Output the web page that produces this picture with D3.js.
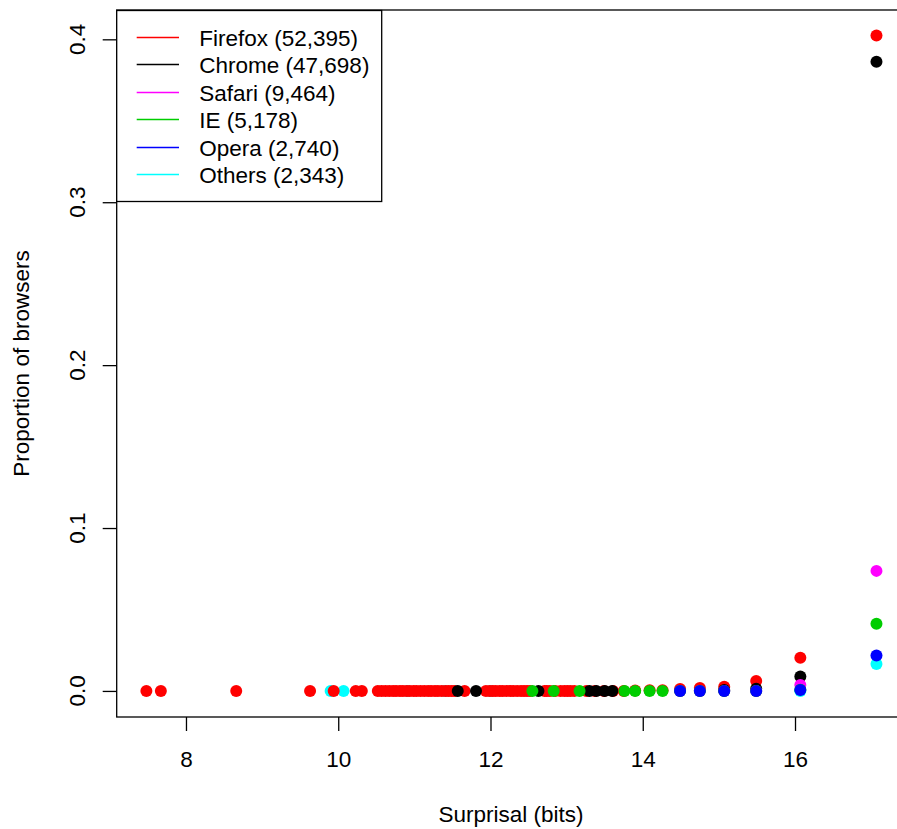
<!DOCTYPE html>
<html>
<head>
<meta charset="utf-8">
<script src="https://cdn.jsdelivr.net/npm/d3@7"></script>
<style>
  body { margin: 0; background: #fff; }
  text { font-family: "Liberation Sans", Arial, sans-serif; fill: #000; }
</style>
</head>
<body>
<svg id="chart" width="897" height="829"></svg>
<script>
// browser series, in legend order
var browsers = ["Firefox", "Chrome", "Safari", "IE", "Opera", "Others"];
var counts   = ["52,395", "47,698", "9,464", "5,178", "2,740", "2,343"];
var colors   = ["#ff0000", "#000000", "#ff00ff", "#00cd00", "#0000ff", "#00ffff"];

// surprisal (bits) and proportion of browsers
var firefoxX = [7.48, 7.67, 8.66, 9.63, 9.94, 10.23, 10.31, 10.52, 10.57, 10.62, 10.67, 10.72,
                10.76, 10.81, 10.85, 10.90, 10.94, 10.99, 11.03, 11.08, 11.13, 11.18, 11.22,
                11.27, 11.31, 11.36, 11.41, 11.45, 11.49, 11.53, 11.66, 11.94, 11.99, 12.03,
                12.07, 12.12, 12.16, 12.21, 12.26, 12.30, 12.35, 12.40, 12.44, 12.48, 12.52,
                12.71, 12.74, 12.78, 12.85, 12.92, 12.97, 13.01, 13.05, 13.10, 13.26, 13.37,
                13.49, 13.61, 13.75, 13.90, 14.09, 14.26, 14.49, 14.75, 15.07, 15.49, 16.07, 17.07];
var firefoxY = [0, 0, 0, 0, 0, 0, 0, 0, 0, 0, 0, 0,
                0, 0, 0, 0, 0, 0, 0, 0, 0, 0, 0,
                0, 0, 0, 0, 0, 0, 0, 0, 0, 0, 0,
                0, 0, 0, 0, 0, 0, 0, 0, 0, 0, 0,
                0, 0, 0, 0, 0, 0, 0, 0, 0, 0, 0,
                0, 0, 0, 0.0002, 0.0004, 0.0004, 0.0012, 0.0018, 0.0025, 0.0061, 0.0203, 0.4023];

var chromeX = [11.57, 11.81, 12.63, 13.30, 13.39, 13.50, 13.60, 15.07, 15.49, 16.07, 17.07];
var chromeY = [0, 0, 0, 0, 0, 0, 0, 0.0006, 0.0013, 0.0088, 0.3862];

var safariX = [14.49, 14.75, 15.07, 15.49, 16.07, 17.07];
var safariY = [0, 0, 0, 0, 0.0037, 0.0737];

var ieX = [12.55, 12.83, 13.17, 13.76, 13.90, 14.09, 14.26, 14.49, 14.75, 15.07, 15.49, 16.07, 17.07];
var ieY = [0, 0, 0, 0, 0, 0, 0, 0, 0, 0, 0, 0.0008, 0.0413];

var operaX = [14.49, 14.75, 15.07, 15.49, 16.07, 17.07];
var operaY = [0, 0, 0, 0, 0.0006, 0.0217];

var othersX = [9.90, 10.07, 10.91, 11.40, 12.00, 16.07, 17.07];
var othersY = [0, 0, 0, 0, 0, 0, 0.0166];

var xTicks = [8, 10, 12, 14, 16];
var yTicks = [0.0, 0.1, 0.2, 0.3, 0.4];

// drawing order (Others first, Opera on top)
var layers = [
  {x: othersX,  y: othersY,  col: colors[5]},
  {x: firefoxX, y: firefoxY, col: colors[0]},
  {x: chromeX,  y: chromeY,  col: colors[1]},
  {x: safariX,  y: safariY,  col: colors[2]},
  {x: ieX,      y: ieY,      col: colors[3]},
  {x: operaX,   y: operaY,   col: colors[4]}
];

var svg = d3.select("#chart");

var xScale = d3.scaleLinear().domain([7.09, 17.45]).range([116.7, 905.4]);
var yScale = d3.scaleLinear().domain([-0.016, 0.418]).range([717, 10]);

// plot box (runs off the right edge, like the original)
svg.append("rect")
  .attr("x", xScale(7.09))
  .attr("y", yScale(0.418))
  .attr("width", xScale(17.45) - xScale(7.09))
  .attr("height", yScale(-0.016) - yScale(0.418))
  .attr("fill", "none")
  .attr("stroke", "#000")
  .attr("stroke-width", 1.3);

// x axis
var xAxis = svg.append("g").attr("transform", "translate(0," + yScale(-0.016) + ")")
  .call(d3.axisBottom(xScale).tickValues(xTicks).tickSize(14).tickPadding(20).tickFormat(d3.format("d")));
xAxis.select(".domain").remove();
xAxis.selectAll("line").attr("stroke-width", 1.3);
xAxis.selectAll("text").attr("font-size", 22.5).attr("font-family", "Liberation Sans, Arial, sans-serif");

// y axis: ticks via d3, labels rotated like R
var yAxis = svg.append("g").attr("transform", "translate(" + xScale(7.09) + ",0)")
  .call(d3.axisLeft(yScale).tickValues(yTicks).tickSize(14).tickFormat(""));
yAxis.select(".domain").remove();
yAxis.selectAll("line").attr("stroke-width", 1.3);

svg.selectAll(".ylab")
  .data(yTicks)
  .enter().append("text")
  .attr("class", "ylab")
  .attr("transform", function(d) { return "translate(85," + yScale(d) + ") rotate(-90)"; })
  .attr("text-anchor", "middle")
  .attr("font-size", 22.5)
  .text(function(d) { return d3.format(".1f")(d); });

// axis titles
svg.append("text")
  .attr("x", (xScale(7.09) + xScale(17.45)) / 2)
  .attr("y", 822)
  .attr("text-anchor", "middle")
  .attr("font-size", 22.5)
  .text("Surprisal (bits)");

svg.append("text")
  .attr("transform", "translate(29," + (yScale(-0.016) + yScale(0.418)) / 2 + ") rotate(-90)")
  .attr("text-anchor", "middle")
  .attr("font-size", 22.5)
  .text("Proportion of browsers");

// points
layers.forEach(function(s) {
  svg.append("g").selectAll("circle")
    .data(s.x)
    .enter().append("circle")
    .attr("cx", function(d) { return xScale(d); })
    .attr("cy", function(d, i) { return yScale(s.y[i]); })
    .attr("r", 6)
    .attr("fill", s.col);
});

// legend
var legend = svg.append("g");
legend.append("rect")
  .attr("x", 116.7).attr("y", 10.5)
  .attr("width", 265).attr("height", 191)
  .attr("fill", "#fff")
  .attr("stroke", "#000")
  .attr("stroke-width", 1.3);

var items = legend.selectAll(".item")
  .data(browsers)
  .enter().append("g")
  .attr("transform", function(d, i) { return "translate(0," + Math.round(37 + 27.4 * i) + ")"; });

items.append("line")
  .attr("x1", 136.7).attr("x2", 179)
  .attr("y1", 0.5).attr("y2", 0.5)
  .attr("stroke", function(d, i) { return colors[i]; })
  .attr("stroke-width", 1.5);

items.append("text")
  .attr("x", 199.3).attr("y", 8.6)
  .attr("font-size", 22.5)
  .text(function(d, i) { return d + " (" + counts[i] + ")"; });
</script>
</body>
</html>
